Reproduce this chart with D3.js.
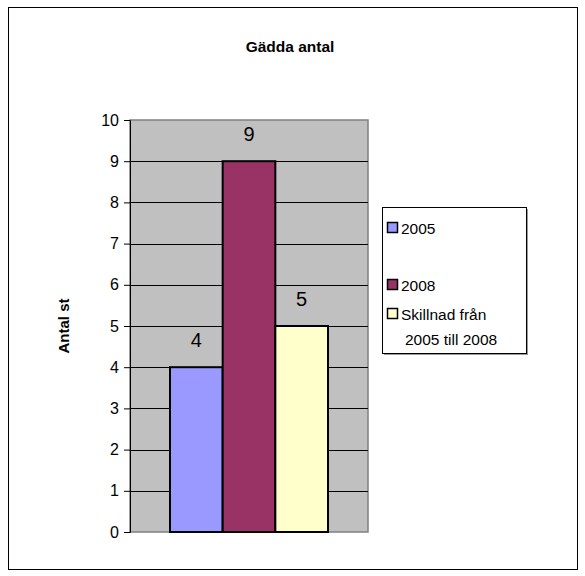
<!DOCTYPE html>
<html><head><meta charset="utf-8">
<script src="https://cdn.jsdelivr.net/npm/d3@7"></script>
<style>body{margin:0;background:#fff}svg{display:block;font-family:Arial,"Liberation Sans",sans-serif}</style>
</head><body><svg id="c" width="585" height="576"></svg>
<script>
const categories = ["2005", "2008", "Skillnad från 2005 till 2008"];
const values = [4, 9, 5];
const colors = ["#9999FF", "#993366", "#FFFFCC"];
const yTicks = [0,1,2,3,4,5,6,7,8,9,10];
const legendLines = [["2005"], ["2008"], ["Skillnad från", "2005 till 2008"]];

const svg = d3.select("#c");
// outer frame
svg.append("rect").attr("x",8.5).attr("y",7.5).attr("width",569).attr("height",562)
  .attr("fill","#fff").attr("stroke","#000").attr("stroke-width",1);

svg.append("text").attr("x",290).attr("y",52).attr("text-anchor","middle")
  .attr("font-weight","bold").attr("font-size",15.5).text("Gädda antal");

const pl=130, pr=368, pt=120, pb=532;
const y = d3.scaleLinear().domain([0,10]).range([pb,pt]);
const inner = d3.scaleBand().domain(categories).range([170,328]);

svg.append("rect").attr("x",pl).attr("y",pt).attr("width",pr-pl).attr("height",pb-pt)
  .attr("fill","#C0C0C0").attr("stroke","#808080").attr("stroke-width",1.5);

svg.append("g").selectAll("line").data(yTicks.slice(1,-1)).join("line")
  .attr("x1",pl).attr("x2",pr).attr("y1",d=>Math.round(y(d))+0.5).attr("y2",d=>Math.round(y(d))+0.5)
  .attr("stroke","#000").attr("stroke-width",1);

const ax = svg.append("g").attr("transform",`translate(${pl},0)`)
  .call(d3.axisLeft(y).tickValues(yTicks).tickSize(6).tickPadding(5).tickFormat(d3.format("d")));
ax.select(".domain").attr("stroke","#000");
ax.selectAll("line").attr("stroke","#000");
ax.selectAll("text").attr("font-size",16).attr("font-family","Arial, 'Liberation Sans', sans-serif").attr("fill","#000");

svg.append("g").selectAll("rect").data(values).join("rect")
  .attr("x",(d,i)=>inner(categories[i])).attr("width",inner.bandwidth())
  .attr("y",d=>y(d)).attr("height",d=>pb-y(d))
  .attr("fill",(d,i)=>colors[i]).attr("stroke","#000").attr("stroke-width",2);

svg.append("g").selectAll("text").data(values).join("text")
  .attr("x",(d,i)=>inner(categories[i])+inner.bandwidth()/2).attr("y",d=>y(d)-20)
  .attr("text-anchor","middle").attr("font-size",20).text(d=>d);

svg.append("text").attr("transform","translate(69,326) rotate(-90)").attr("text-anchor","middle")
  .attr("font-weight","bold").attr("font-size",15).text("Antal st");

// legend
const lx=382, ly=207, lw=144, lh=146;
svg.append("rect").attr("x",lx+2).attr("y",ly+2).attr("width",lw).attr("height",lh).attr("fill","#999");
svg.append("rect").attr("x",lx+0.5).attr("y",ly+0.5).attr("width",lw).attr("height",lh)
  .attr("fill","#fff").attr("stroke","#000").attr("stroke-width",1);
const itemY=[228,285,314];
const lg = svg.append("g").selectAll("g").data(categories).join("g");
lg.append("rect").attr("x",387.5).attr("y",(d,i)=>itemY[i]-5.5).attr("width",10).attr("height",10)
  .attr("fill",(d,i)=>colors[i]).attr("stroke","#000").attr("stroke-width",1.5);
lg.each(function(d,i){
  const t=d3.select(this).append("text").attr("x",401).attr("y",itemY[i]+5.5).attr("font-size",15.5);
  legendLines[i].forEach((s,j)=>t.append("tspan").attr("x",j===0?401:405).attr("dy",j===0?0:25).text(s));
});
</script></body></html>
